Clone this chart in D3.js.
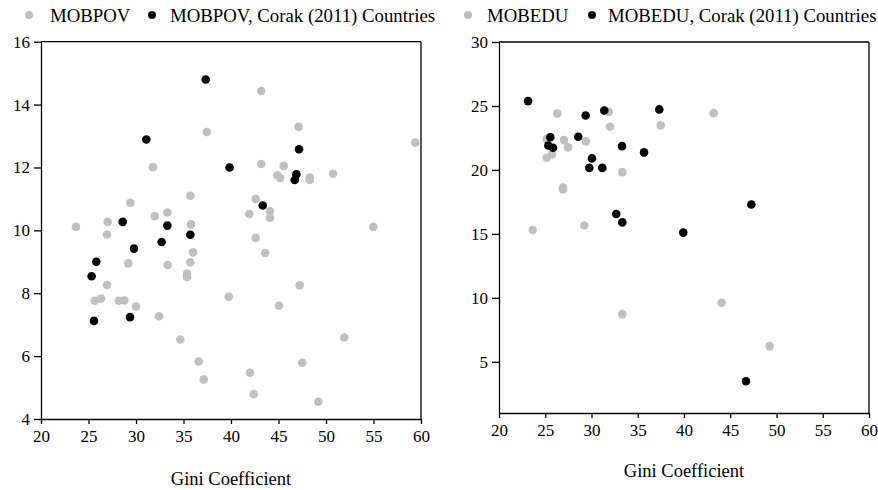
<!DOCTYPE html>
<html><head><meta charset="utf-8">
<script src="https://cdn.jsdelivr.net/npm/d3@7"></script>
<style>body{margin:0;background:#fff}svg{display:block}text{font-family:"Liberation Serif",serif;fill:#000}</style>
</head><body><svg id="c" width="878" height="490"></svg>
<script>
// Left panel: MOBPOV vs Gini
const povAll = [[37.44,13.13],[31.79,12.01],[35.72,11.10],[29.40,10.88],[31.97,10.45],[33.3,10.57],[27.02,10.27],[23.68,10.11],[35.79,10.19],
[43.19,14.43],[47.12,13.29],[59.4,12.79],[43.19,12.11],[45.55,12.05],[44.87,11.75],[45.16,11.67],[48.3,11.68],[48.28,11.6],[50.74,11.8],[42.6,11.0],[41.93,10.52],[44.1,10.61],[44.1,10.4],[54.98,10.11],
[26.95,9.87],[36.0,9.30],[29.19,8.95],[35.72,8.98],[33.33,8.90],[35.37,8.63],[35.37,8.52],[26.95,8.26],[25.65,7.76],[26.32,7.83],[28.18,7.76],[28.77,7.77],[30.0,7.58],[39.76,7.89],[32.42,7.27],[34.66,6.53],[36.6,5.83],[37.13,5.26],
[42.6,9.76],[43.61,9.28],[47.23,8.25],[45.05,7.6],[51.93,6.59],[47.5,5.79],[42.0,5.47],[42.39,4.79],[49.19,4.55]];
const povCorak = [[37.34,14.80],[31.09,12.89],[39.85,12.0],[47.16,12.58],[46.88,11.78],[46.7,11.6],[43.34,10.79],[28.6,10.27],[33.3,10.15],[35.72,9.86],[32.7,9.63],[29.79,9.42],[25.82,9.0],[25.33,8.54],[25.58,7.12],[29.37,7.24]];
// Right panel: MOBEDU vs Gini
const eduAll = [[26.3,24.41],[31.86,24.54],[32.0,23.37],[37.48,23.48],[25.16,22.41],[27.03,22.33],[29.4,22.23],[27.46,21.76],[25.73,21.23],[25.16,20.95],[33.33,19.83],[26.92,18.63],[26.92,18.48],[29.22,15.66],[23.64,15.3],[43.21,24.44],[33.33,8.73],[44.07,9.62],[49.26,6.23]];
const eduCorak = [[23.14,25.38],[29.37,24.26],[31.38,24.65],[37.33,24.73],[25.55,22.56],[28.57,22.59],[25.33,21.91],[25.84,21.73],[33.3,21.86],[35.68,21.37],[30.05,20.9],[29.76,20.16],[31.17,20.16],[32.68,16.55],[33.33,15.9],[39.92,15.1],[47.28,17.3],[46.7,3.48]];
const xTicks = [20,25,30,35,40,45,50,55,60];
const yTicksL = [4,6,8,10,12,14,16];
const yTicksR = [5,10,15,20,25,30];
const legendL = ["MOBPOV","MOBPOV, Corak (2011) Countries"];
const legendR = ["MOBEDU","MOBEDU, Corak (2011) Countries"];
const xTitle = "Gini Coefficient";

const svg = d3.select("#c");
const GRAY = "#c0c0c0";
const FS = 17;

function panel(cfg){
  const g = svg.append("g");
  const x = d3.scaleLinear().domain([20,60]).range(cfg.xr);
  const y = d3.scaleLinear().domain(cfg.yd).range(cfg.yr);
  g.append("line").attr("x1",x(20)).attr("x2",x(60)).attr("y1",y.range()[1]).attr("y2",y.range()[1]).attr("stroke","#000").attr("stroke-width",1.3);
  g.append("line").attr("x1",x(60)).attr("x2",x(60)).attr("y1",y.range()[1]).attr("y2",y.range()[0]).attr("stroke","#000").attr("stroke-width",1.3);
  const ax = g.append("g").attr("transform",`translate(0,${y.range()[0]})`)
    .call(d3.axisBottom(x).tickValues(xTicks).tickSize(5).tickSizeOuter(0).tickPadding(6));
  const ay = g.append("g").attr("transform",`translate(${x(20)},0)`)
    .call(d3.axisLeft(y).tickValues(cfg.yt).tickSize(7).tickSizeOuter(0).tickPadding(4));
  [ax,ay].forEach(a=>{a.attr("font-family",null).selectAll("path,line").attr("stroke","#000").attr("stroke-width",1.3);
    a.selectAll("text").attr("font-size",FS).attr("fill","#000");});
  g.append("g").selectAll("circle").data(cfg.all).join("circle")
    .attr("cx",d=>x(d[0])).attr("cy",d=>y(d[1])).attr("r",4.3).attr("fill",GRAY);
  g.append("g").selectAll("circle").data(cfg.corak).join("circle")
    .attr("cx",d=>x(d[0])).attr("cy",d=>y(d[1])).attr("r",4.3).attr("fill","#000");
  g.append("text").attr("x",(x(20)+x(60))/2).attr("y",cfg.titleY).attr("text-anchor","middle")
    .attr("font-size",18.5).text(xTitle);
  const lg = g.append("g");
  lg.append("circle").attr("cx",cfg.leg[0]).attr("cy",15).attr("r",4).attr("fill",GRAY);
  lg.append("text").attr("x",cfg.leg[1]).attr("y",15).attr("dy","0.35em").attr("font-size",18.8).text(cfg.labels[0]);
  lg.append("circle").attr("cx",cfg.leg[2]).attr("cy",15).attr("r",4).attr("fill","#000");
  lg.append("text").attr("x",cfg.leg[3]).attr("y",15).attr("dy","0.35em").attr("font-size",18.8).text(cfg.labels[1]);
}
panel({xr:[41,421], yd:[4,16], yr:[419,41.7], yt:yTicksL, all:povAll, corak:povCorak, titleY:485, leg:[29,50,152,170], labels:legendL});
panel({xr:[499,869], yd:[1,30], yr:[413,42], yt:yTicksR, all:eduAll, corak:eduCorak, titleY:477, leg:[468,487,592,608], labels:legendR});
</script></body></html>
